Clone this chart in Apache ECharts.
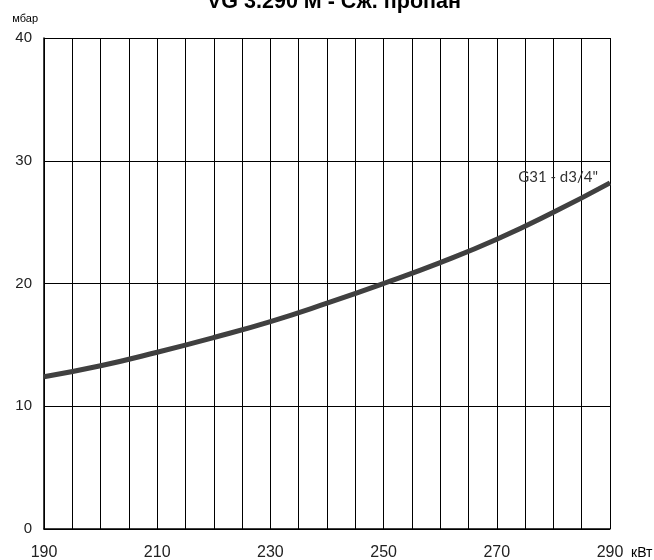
<!DOCTYPE html>
<html><head><meta charset="utf-8">
<script src="https://cdn.jsdelivr.net/npm/echarts@6/dist/echarts.min.js"></script>
<style>html,body{margin:0;padding:0;background:#fff}#c{width:654px;height:560px}</style>
</head><body><div id="c"></div>
<script>
const power = [190, 200, 210, 220, 230, 240, 250, 260, 270, 280, 290];
const pressure = [12.4, 13.3, 14.4, 15.6, 16.9, 18.4, 20.0, 21.7, 23.6, 25.8, 28.2];
const seriesName = 'G31 - d3/4"';
const title = 'VG 3.290 M - Сж. пропан';

const chart = echarts.init(document.getElementById('c'));
chart.setOption({
  animation: false,
  backgroundColor: '#fff',
  title: { text: title, left: 329, textAlign: 'center', top: -14,
    textStyle: { fontFamily: 'Liberation Sans', fontWeight: 'bold', fontSize: 21.5, color: '#000' } },
  grid: { left: 44, right: 44, top: 38, bottom: 31, containLabel: false, outerBoundsMode: 'none' },
  xAxis: { type: 'value', min: 190, max: 290, interval: 5,
    name: 'кВт', nameLocation: 'end', nameGap: 21,
    nameTextStyle: { fontFamily: 'Liberation Sans', fontSize: 14, color: '#000', verticalAlign: 'top', padding: [17, 0, 0, 0] },
    axisLine: { lineStyle: { color: '#000', width: 1.5 } }, axisTick: { show: false },
    axisLabel: { margin: 16, fontFamily: 'Liberation Sans', fontSize: 16, color: '#222',
      formatter: v => ((v - 190) % 20 === 0 ? String(v) : '') },
    splitLine: { show: true, lineStyle: { color: '#000', width: 1 } } },
  yAxis: { type: 'value', min: 0, max: 40, interval: 10,
    name: 'мбар', nameLocation: 'end', nameGap: 14,
    nameTextStyle: { fontFamily: 'Liberation Sans', fontSize: 11, color: '#000', align: 'right', padding: [0, 6, 0, 0] },
    axisLine: { show: true, lineStyle: { color: '#000', width: 1.5 } }, axisTick: { show: false },
    axisLabel: { margin: 12, fontFamily: 'Liberation Sans', fontSize: 15, color: '#222' },
    splitLine: { show: true, lineStyle: { color: '#000', width: 1 } } },
  series: [{ name: seriesName, type: 'line', smooth: true, symbol: 'none',
    data: power.map((p, i) => [p, pressure[i]]),
    lineStyle: { color: '#404040', width: 5 },
    markPoint: { symbol: 'circle', symbolSize: 0,
      data: [{ coord: [power[power.length - 1], pressure[pressure.length - 1]] }],
      label: { show: true, formatter: seriesName, position: 'left', offset: [-7, -6],
        fontFamily: 'Lato', fontSize: 15, color: '#333' } } }]
});
</script></body></html>
